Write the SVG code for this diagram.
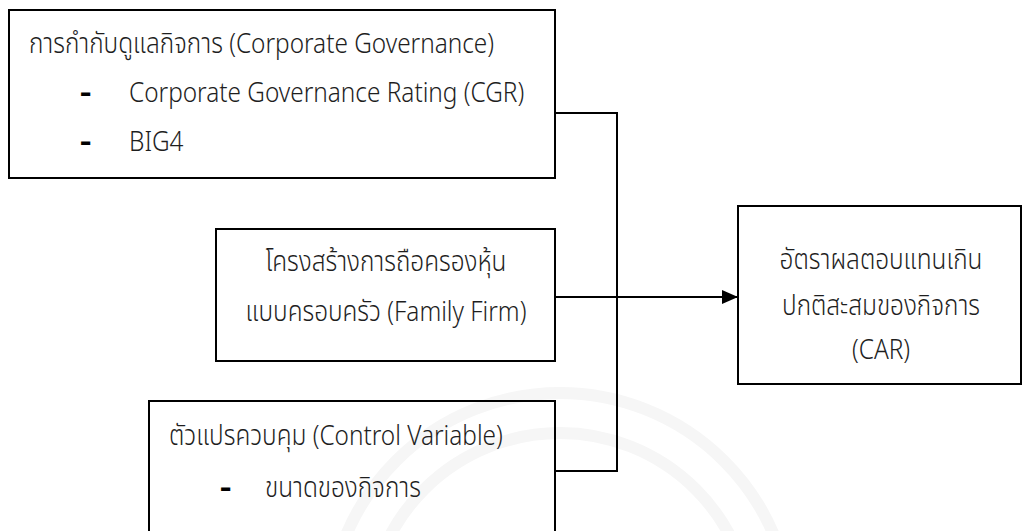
<svg xmlns="http://www.w3.org/2000/svg" width="1024" height="531" viewBox="0 0 1024 531">
  <style>
    .box { fill: none; stroke: #000000; stroke-width: 2; }
    .wire { fill: none; stroke: #000000; stroke-width: 2; }
    .lbl { font-family: "Noto Sans Thai", "Leelawadee UI", "Open Sans", "Noto Sans", "DejaVu Sans", sans-serif; font-size: 28px; font-weight: 300; fill: #1e1e1e; }
    .dash { font-weight: 700; fill: #000000; }
    .mid { text-anchor: middle; }
    .seal { fill: none; stroke: #f6f6f6; stroke-width: 12; }
  </style>
  <defs>
    <marker id="arrowhead" viewBox="0 0 16 14" refX="16" refY="7" markerWidth="16" markerHeight="14" markerUnits="userSpaceOnUse" orient="auto">
      <path d="M0,0 L16,7 L0,14 Z" fill="#000000"/>
    </marker>
  </defs>

  <!-- faint seal in the background -->
  <g id="seal">
    <circle class="seal" cx="560" cy="625" r="232"/>
    <circle class="seal" cx="560" cy="625" r="192" stroke-width="5"/>
  </g>

  <!-- connectors -->
  <g id="connectors">
    <polyline class="wire" points="555,113 617,113 617,471 555,471"/>
    <line class="wire" x1="555" y1="297" x2="738" y2="297" stroke-width="2.5" marker-end="url(#arrowhead)"/>
  </g>

  <!-- labels use a narrowed, taller face: scale(0.87,1) -->
  <g id="governance">
    <rect class="box" x="9" y="10" width="546" height="168"/>
    <text class="lbl" transform="translate(29,53) scale(0.87,1)">การกำกับดูแลกิจการ (Corporate Governance)</text>
    <text class="lbl dash" transform="translate(80,102) scale(1.25,1)">-</text>
    <text class="lbl" transform="translate(129,102) scale(0.87,1)">Corporate Governance Rating (CGR)</text>
    <text class="lbl dash" transform="translate(80,151) scale(1.25,1)">-</text>
    <text class="lbl" transform="translate(129,151) scale(0.87,1)">BIG4</text>
  </g>

  <g id="family-firm">
    <rect class="box" x="216" y="229" width="339" height="132"/>
    <text class="lbl mid" transform="translate(386,271) scale(0.87,1)">โครงสร้างการถือครองหุ้น</text>
    <text class="lbl mid" transform="translate(386,321) scale(0.87,1)">แบบครอบครัว (Family Firm)</text>
  </g>

  <g id="control">
    <rect class="box" x="149" y="401" width="406" height="140"/>
    <text class="lbl" transform="translate(169,445) scale(0.87,1)">ตัวแปรควบคุม (Control Variable)</text>
    <text class="lbl dash" transform="translate(220,497) scale(1.25,1)">-</text>
    <text class="lbl" transform="translate(265,497) scale(0.87,1)">ขนาดของกิจการ</text>
  </g>

  <g id="car">
    <rect class="box" x="738" y="206" width="283" height="178"/>
    <text class="lbl mid" transform="translate(881,269) scale(0.87,1)">อัตราผลตอบแทนเกิน</text>
    <text class="lbl mid" transform="translate(881,315) scale(0.87,1)">ปกติสะสมของกิจการ</text>
    <text class="lbl mid" transform="translate(881,359) scale(0.87,1)">(CAR)</text>
  </g>
</svg>
